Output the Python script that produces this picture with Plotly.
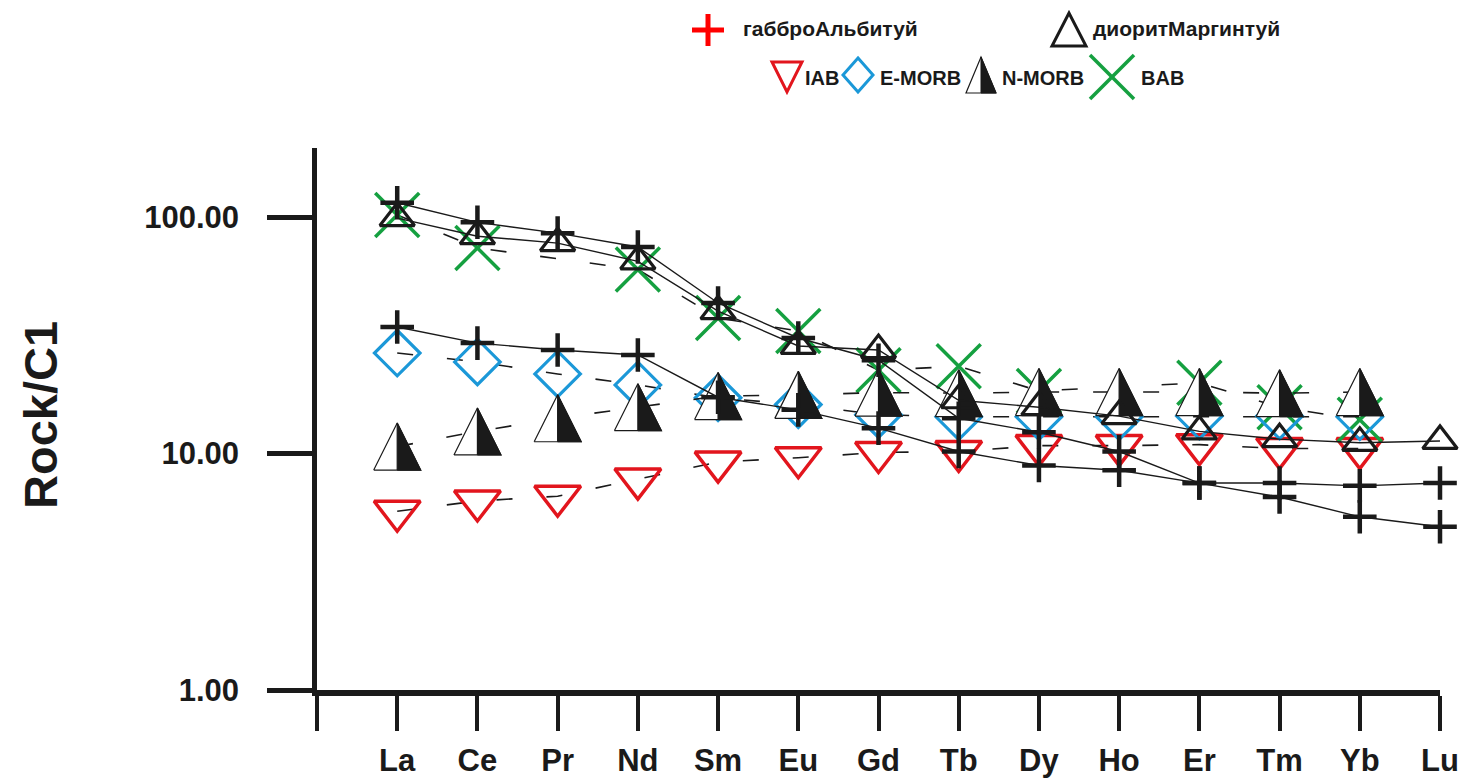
import numpy as np
import plotly.graph_objects as go

# --- chondrite-normalised REE data -------------------------------------------
elements = ["La", "Ce", "Pr", "Nd", "Sm", "Eu", "Gd", "Tb", "Dy", "Ho", "Er", "Tm", "Yb", "Lu"]
x_pos = list(range(1, len(elements) + 1))

gabbro_a = [115, 95, 85.5, 74.7, 43.3, 30.8, 24.8, 14.1, 12.3, 10.2, 7.5, 7.5, 7.3, 7.5]
gabbro_b = [34.3, 29.3, 27.4, 26.1, 17.3, 15.3, 12.8, 10.2, 8.9, 8.5, 7.5, 6.55, 5.4, 4.9]
diorite = [99, 83, 77.6, 65, 40, 28.5, 27.4, 16.8, 15.7, 14.4, 12.4, 11.5, 11.1, 11.3]
iab = [5.7, 6.3, 6.6, 7.8, 9.2, 9.6, 10.1, 10.2, 10.8, 10.8, 10.9, 10.5, 10.5, None]
e_morb = [26.6, 24.4, 21.7, 19.5, 17.2, 16.1, 14.6, 14.3, 14.3, 14.3, 14.4, 14.4, 14.3, None]
n_morb = [10.7, 12.4, 14.1, 15.7, 17.5, 17.7, 18.1, 18.0, 18.2, 18.2, 18.2, 18.0, 18.2, None]
bab = [102, 74, None, 60, 37.4, 33, 22.5, 23.4, 18.4, None, 19.9, 15.7, 13.9, None]

y_tickvals = [1, 10, 100]
y_ticktext = ["1.00", "10.00", "100.00"]

# --- page geometry -----------------------------------------------------------
W, H = 1474, 781
M_L, M_R, M_T, M_B = 317, 34, 148, 91
PW = W - M_L - M_R
PH = H - M_T - M_B
X_RANGE = [0, 14]
Y_RANGE = [0, 2.292]  # log10 units
PX_PER_X = PW / (X_RANGE[1] - X_RANGE[0])
PX_PER_DEC = PH / (Y_RANGE[1] - Y_RANGE[0])

RED = "#e2151d"
BLUE = "#1b98d8"
GREEN = "#15a040"
BLACK = "#1a1a1a"
FONT = "Arial, Liberation Sans, sans-serif"
DASH = "16px,34px"

fig = go.Figure()

# IAB
fig.add_trace(go.Scatter(
    x=x_pos, y=iab, mode="lines+markers", connectgaps=True, cliponaxis=False,
    line=dict(color=BLACK, width=1.6, dash=DASH),
    marker=dict(symbol="triangle-down-open", size=40, color=RED,
                line=dict(color=RED, width=3.5)),
    showlegend=False))

# BAB
fig.add_trace(go.Scatter(
    x=x_pos, y=bab, mode="lines+markers", connectgaps=True, cliponaxis=False,
    line=dict(color=BLACK, width=1.6, dash=DASH),
    marker=dict(symbol="x-thin-open", size=44, color=GREEN,
                line=dict(color=GREEN, width=3.5)),
    showlegend=False))

# E-MORB
fig.add_trace(go.Scatter(
    x=x_pos, y=e_morb, mode="lines+markers", connectgaps=True, cliponaxis=False,
    line=dict(color=BLACK, width=1.6, dash=DASH),
    marker=dict(symbol="diamond-open", size=35, color=BLUE,
                line=dict(color=BLUE, width=3.2)),
    showlegend=False))

# N-MORB: dashed profile plus half-filled triangles built on the axis scales
fig.add_trace(go.Scatter(
    x=x_pos, y=n_morb, mode="lines", connectgaps=True, cliponaxis=False,
    line=dict(color=BLACK, width=1.6, dash=DASH), showlegend=False))

half_w = 23.5 / PX_PER_X
half_h = 23.5 / PX_PER_DEC
out_x, out_y, fill_x, fill_y = [], [], [], []
for xi, v in zip(x_pos, n_morb):
    if v is None:
        continue
    top = v * 10 ** half_h
    bot = v / 10 ** half_h
    out_x += [xi - half_w, xi + half_w, xi, xi - half_w, None]
    out_y += [bot, bot, top, bot, None]
    fill_x += [xi, xi + half_w, xi, xi, None]
    fill_y += [bot, bot, top, bot, None]

fig.add_trace(go.Scatter(
    x=out_x, y=out_y, mode="lines", cliponaxis=False, fill="toself",
    fillcolor="rgba(255,255,255,1)",
    line=dict(color=BLACK, width=1.2), showlegend=False, hoverinfo="skip"))
fig.add_trace(go.Scatter(
    x=fill_x, y=fill_y, mode="lines", cliponaxis=False, fill="toself",
    fillcolor=BLACK, line=dict(color=BLACK, width=1.2),
    showlegend=False, hoverinfo="skip"))

# diorite sample
fig.add_trace(go.Scatter(
    x=x_pos, y=diorite, mode="lines+markers", cliponaxis=False,
    line=dict(color=BLACK, width=1.4),
    marker=dict(symbol="triangle-up-open", size=30, color=BLACK,
                line=dict(color=BLACK, width=3.2)),
    showlegend=False))

# gabbro samples
for series in (gabbro_a, gabbro_b):
    fig.add_trace(go.Scatter(
        x=x_pos, y=series, mode="lines+markers", cliponaxis=False,
        line=dict(color=BLACK, width=1.4),
        marker=dict(symbol="cross-thin-open", size=24, color=BLACK,
                    line=dict(color=BLACK, width=4.5)),
        showlegend=False))


# --- hand-built legend (pixel layout converted to paper units) ----------------
def px(xp):
    return (xp - M_L) / PW


def py(yp):
    return (H - M_B - yp) / PH


def poly(points):
    return "M " + " L ".join(f"{px(a):.5f},{py(b):.5f}" for a, b in points) + " Z"


def seg(x0, y0, x1, y1, color, width):
    return dict(type="line", xref="paper", yref="paper", x0=px(x0), x1=px(x1),
                y0=py(y0), y1=py(y1), line=dict(color=color, width=width))


shapes = []
# row 1: red plus and open triangle
shapes.append(seg(692, 30, 724, 30, "#ff0000", 5))
shapes.append(seg(708, 14, 708, 46, "#ff0000", 5))
shapes.append(dict(type="path", xref="paper", yref="paper",
                   path=poly([(1052, 46), (1086, 46), (1069, 13)]),
                   line=dict(color=BLACK, width=3)))
# row 2: inverted red triangle
shapes.append(dict(type="path", xref="paper", yref="paper",
                   path=poly([(772, 62), (802, 62), (787, 92)]),
                   line=dict(color=RED, width=3)))
# blue diamond
shapes.append(dict(type="path", xref="paper", yref="paper",
                   path=poly([(858, 58), (873, 75), (858, 92), (843, 75)]),
                   line=dict(color=BLUE, width=3)))
# half-filled triangle
shapes.append(dict(type="path", xref="paper", yref="paper",
                   path=poly([(966, 93), (996, 93), (981, 57)]),
                   line=dict(color=BLACK, width=1.2)))
shapes.append(dict(type="path", xref="paper", yref="paper",
                   path=poly([(981, 93), (996, 93), (981, 57)]),
                   fillcolor=BLACK, line=dict(color=BLACK, width=1)))
# green X
shapes.append(seg(1090, 55, 1134, 99, GREEN, 3.5))
shapes.append(seg(1090, 99, 1134, 55, GREEN, 3.5))

legend_text = [
    ("габброАльбитуй", 741, 29, 21),
    ("диоритМаргинтуй", 1091, 29, 21),
    ("IAB", 803, 78, 20),
    ("E-MORB", 878, 78, 20),
    ("N-MORB", 1000, 78, 20),
    ("BAB", 1139, 78, 20),
]
annotations = [
    dict(text=t, x=px(xp), y=py(yp), xref="paper", yref="paper",
         xanchor="left", yanchor="middle", showarrow=False,
         font=dict(family=FONT, size=fs, color=BLACK, weight="bold"))
    for t, xp, yp, fs in legend_text
]
annotations.append(dict(
    text="Rock/C1", x=px(40), y=py(415), xref="paper", yref="paper",
    xanchor="center", yanchor="middle", showarrow=False, textangle=-90,
    font=dict(family=FONT, size=47, color=BLACK, weight="bold")))

fig.update_layout(
    width=W, height=H,
    margin=dict(l=M_L, r=M_R, t=M_T, b=M_B, autoexpand=False),
    paper_bgcolor="white", plot_bgcolor="white",
    shapes=shapes, annotations=annotations,
    xaxis=dict(
        range=X_RANGE, tickmode="array", tickvals=[0] + x_pos, ticktext=[""] + elements,
        showgrid=False, zeroline=False, showline=True, linecolor=BLACK, linewidth=6,
        ticks="outside", ticklen=35, tickwidth=3.5, tickcolor=BLACK,
        ticklabelstandoff=3,
        tickfont=dict(family=FONT, size=31, color=BLACK, weight="bold")),
    yaxis=dict(
        type="log", range=Y_RANGE, tickmode="array", tickvals=y_tickvals,
        ticktext=y_ticktext, showgrid=False, zeroline=False, showline=True,
        linecolor=BLACK, linewidth=4.5, ticks="outside", ticklen=45, tickwidth=4.5,
        tickcolor=BLACK, ticklabelstandoff=22,
        tickfont=dict(family=FONT, size=31, color=BLACK, weight="bold")),
)

fig.write_html("out.html")
